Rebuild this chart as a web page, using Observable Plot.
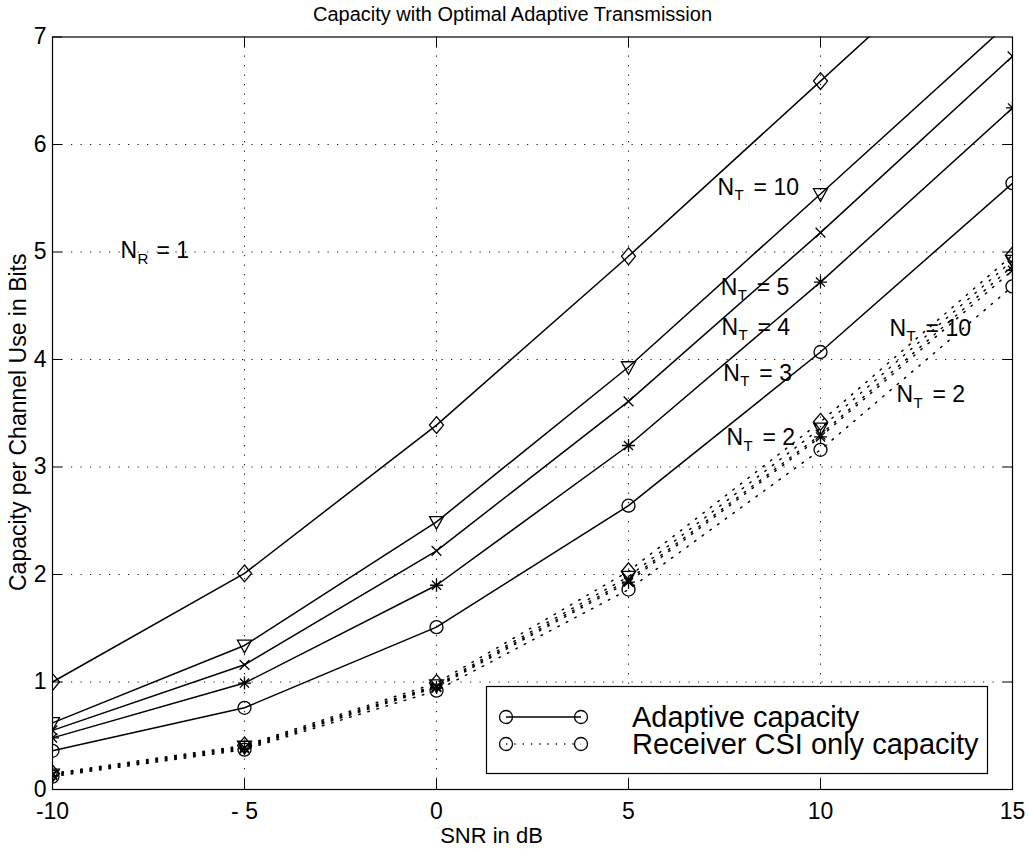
<!DOCTYPE html>
<html>
<head>
<meta charset="utf-8">
<script src="https://cdn.jsdelivr.net/npm/d3@7"></script>
<script src="https://cdn.jsdelivr.net/npm/@observablehq/plot@0.6"></script>
<style>
  body { margin: 0; background: #fff; }
  #chart { position: relative; width: 1029px; height: 850px; }
  #legend { position: absolute; left: 486px; top: 686px; }
</style>
</head>
<body>
<div id="chart"></div>
<script>
// SNR grid (dB) and number of transmit antennas
const snrDb = [-10, -5, 0, 5, 10, 15];
const antennaCounts = [2, 3, 4, 5, 10];

// Capacity with optimal adaptive transmission (bits per channel use)
const adaptiveNt2  = [0.36, 0.76, 1.51, 2.64, 4.07, 5.64];
const adaptiveNt3  = [0.48, 0.99, 1.90, 3.20, 4.72, 6.34];
const adaptiveNt4  = [0.55, 1.16, 2.22, 3.61, 5.18, 6.82];
const adaptiveNt5  = [0.62, 1.34, 2.49, 3.93, 5.54, 7.16];
const adaptiveNt10 = [1.00, 2.01, 3.39, 4.96, 6.59, 8.22];

// Capacity with channel state information at the receiver only
const csiNt2  = [0.12, 0.37, 0.92, 1.86, 3.16, 4.68];
const csiNt3  = [0.13, 0.38, 0.95, 1.93, 3.28, 4.83];
const csiNt4  = [0.14, 0.39, 0.96, 1.95, 3.30, 4.87];
const csiNt5  = [0.14, 0.40, 0.97, 1.98, 3.36, 4.92];
const csiNt10 = [0.15, 0.41, 0.99, 2.03, 3.42, 4.97];

// Axis ticks
const xTicks = [-10, -5, 0, 5, 10, 15];
const xTickLabels = ["-10", "- 5", "0", "5", "10", "15"];
const yTicks = [0, 1, 2, 3, 4, 5, 6, 7];

// Curve annotations: N with subscript, then the value text
const noteSnr  = [7.32, 7.40, 7.42, 7.47, 7.55, 11.80, 11.98, -8.23];
const noteCap  = [5.60, 4.67, 4.30, 3.87, 3.27, 4.29, 3.67, 5.01];
const noteSub  = ["T", "T", "T", "T", "T", "T", "T", "R"];
const noteText = ["= 10", "= 5", "= 4", "= 3", "= 2", "= 10", "= 2", "= 1"];

const titleText = "Capacity with Optimal Adaptive Transmission";
const xLabel = "SNR in dB";
const yLabel = "Capacity per Channel Use in Bits";
const legendLabels = ["Adaptive capacity", "Receiver CSI only capacity"];

const font = "'Liberation Sans', Arial, Helvetica, sans-serif";

// Marker shapes; R is the radius implied by the dot's r option
const rOf = size => Math.sqrt(size / Math.PI);
const diamondSym = {draw(c, s) { const R = rOf(s); c.moveTo(0, -R * 1.2); c.lineTo(R, 0); c.lineTo(0, R * 1.2); c.lineTo(-R, 0); c.closePath(); }};
const triDownSym = {draw(c, s) { const R = rOf(s); c.moveTo(-R, -R * 0.75); c.lineTo(R, -R * 0.75); c.lineTo(0, R * 1.05); c.closePath(); }};
const timesSym = {draw(c, s) { const R = rOf(s) * 0.75; c.moveTo(-R, -R); c.lineTo(R, R); c.moveTo(R, -R); c.lineTo(-R, R); }};
const starSym = {draw(c, s) { const R = rOf(s); const d = R * 0.7;
  c.moveTo(-R, 0); c.lineTo(R, 0); c.moveTo(0, -R); c.lineTo(0, R);
  c.moveTo(-d, -d); c.lineTo(d, d); c.moveTo(d, -d); c.lineTo(-d, d); }};
const circleSym = {draw(c, s) { const R = rOf(s); c.moveTo(R, 0); c.arc(0, 0, R, 0, 2 * Math.PI); }};

const seriesDefs = [
  {nt: antennaCounts[0], adaptive: adaptiveNt2,  csi: csiNt2,  symbol: circleSym, r: 6.5},
  {nt: antennaCounts[1], adaptive: adaptiveNt3,  csi: csiNt3,  symbol: starSym,   r: 6.5},
  {nt: antennaCounts[2], adaptive: adaptiveNt4,  csi: csiNt4,  symbol: timesSym,  r: 6.5},
  {nt: antennaCounts[3], adaptive: adaptiveNt5,  csi: csiNt5,  symbol: triDownSym, r: 7},
  {nt: antennaCounts[4], adaptive: adaptiveNt10, csi: csiNt10, symbol: diamondSym, r: 7}
];

const rowsOf = (vals, nt) => snrDb.map((x, i) => ({snr: x, cap: vals[i], nt}));

const marks = [];
// dotted grid inside the frame
marks.push(Plot.gridX(xTicks.slice(1, -1), {stroke: "#000", strokeOpacity: 0.9, strokeDasharray: "1.2,8.3", strokeWidth: 1.1}));
marks.push(Plot.gridY(yTicks.slice(1, -1), {stroke: "#000", strokeOpacity: 0.9, strokeDasharray: "1.2,8.3", strokeWidth: 1.1}));

for (const s of seriesDefs) {
  const a = rowsOf(s.adaptive, s.nt);
  const c = rowsOf(s.csi, s.nt);
  marks.push(Plot.line(c, {x: "snr", y: "cap", stroke: "#000", strokeWidth: 1.5, strokeDasharray: "1.5,8", clip: true}));
  marks.push(Plot.line(a, {x: "snr", y: "cap", stroke: "#000", strokeWidth: 1.5, clip: true}));
  marks.push(Plot.dot(c, {x: "snr", y: "cap", symbol: s.symbol, r: s.r, stroke: "#000", fill: "none", strokeWidth: 1.3, clip: true}));
  marks.push(Plot.dot(a, {x: "snr", y: "cap", symbol: s.symbol, r: s.r, stroke: "#000", fill: "none", strokeWidth: 1.3, clip: true}));
}

// annotations
const noteIdx = noteSnr.map((_, i) => i);
marks.push(Plot.text(noteIdx, {x: i => noteSnr[i], y: i => noteCap[i], text: () => "N", textAnchor: "start", fontSize: 23}));
marks.push(Plot.text(noteIdx, {x: i => noteSnr[i], y: i => noteCap[i], text: i => noteSub[i], textAnchor: "start", fontSize: 15, dx: 17, dy: 8}));
marks.push(Plot.text(noteIdx, {x: i => noteSnr[i], y: i => noteCap[i], text: i => noteText[i], textAnchor: "start", fontSize: 23, dx: 36}));

// box with inward ticks on all sides
marks.push(Plot.frame({stroke: "#000", strokeWidth: 1.2}));
marks.push(Plot.axisX({anchor: "bottom", ticks: xTicks, tickSize: -10, tickPadding: 23, tickFormat: (d, i) => xTickLabels[i], label: null, fontSize: 23}));
marks.push(Plot.axisX({anchor: "top", ticks: xTicks.slice(1, -1), tickSize: -10, tickFormat: () => "", label: null}));
marks.push(Plot.axisY({anchor: "left", ticks: yTicks, tickSize: -10, tickPadding: 16, tickFormat: d => String(d), label: null, fontSize: 23}));
marks.push(Plot.axisY({anchor: "right", ticks: yTicks.slice(1, -1), tickSize: -10, tickFormat: () => "", label: null}));

// title and axis labels
marks.push(Plot.text([titleText], {frameAnchor: "top", textAnchor: "middle", lineAnchor: "middle", dx: -20, dy: -22, fontSize: 20}));
marks.push(Plot.text([xLabel], {frameAnchor: "bottom", textAnchor: "middle", lineAnchor: "middle", dx: -41, dy: 46, fontSize: 22}));
marks.push(Plot.text([yLabel], {frameAnchor: "left", textAnchor: "middle", lineAnchor: "middle", rotate: -90, dx: -34, dy: 9, fontSize: 23}));

const chart = Plot.plot({
  width: 1029,
  height: 850,
  marginLeft: 52,
  marginRight: 17,
  marginTop: 36.5,
  marginBottom: 61,
  x: {domain: [-10, 15]},
  y: {domain: [0, 7]},
  style: {fontFamily: font, color: "#000", background: "#fff", overflow: "visible"},
  marks
});
document.getElementById("chart").appendChild(chart);

// legend box
const lg = d3.select("#chart").append("svg")
  .attr("id", "legend").attr("width", 503).attr("height", 89)
  .style("overflow", "visible");
lg.append("rect").attr("x", 0.5).attr("y", 0.5).attr("width", 501).attr("height", 87)
  .attr("fill", "#fff").attr("stroke", "#000").attr("stroke-width", 1.2);
const rowY = [31, 58];
legendLabels.forEach((label, i) => {
  const y = rowY[i];
  lg.append("line").attr("x1", 20).attr("x2", 95).attr("y1", y).attr("y2", y)
    .attr("stroke", "#000").attr("stroke-width", 1.3)
    .attr("stroke-dasharray", i === 0 ? null : "1.3,7");
  [20, 95].forEach(cx => lg.append("circle").attr("cx", cx).attr("cy", y).attr("r", 6.5)
    .attr("fill", "none").attr("stroke", "#000").attr("stroke-width", 1.3));
  lg.append("text").attr("x", 146).attr("y", y + 10)
    .attr("font-family", font).attr("font-size", 29).text(label);
});
</script>
</body>
</html>
